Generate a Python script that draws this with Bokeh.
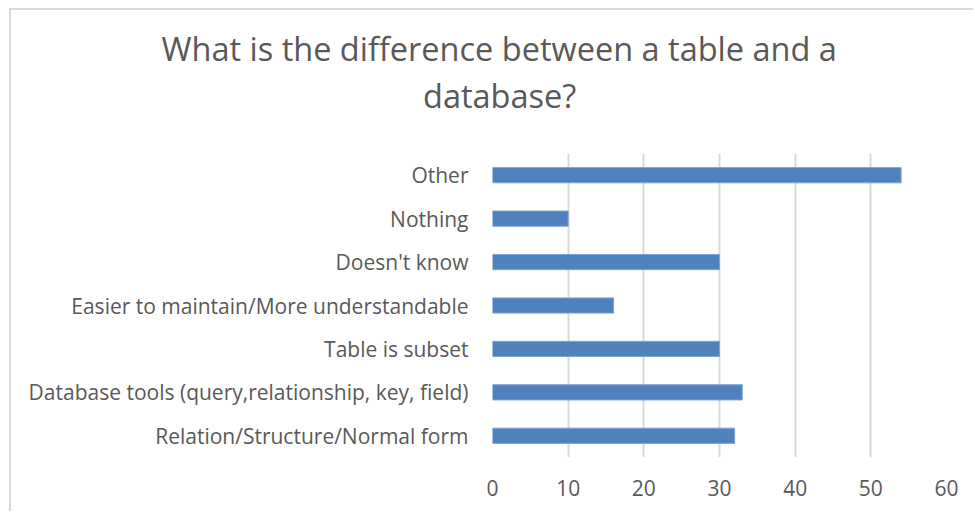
from bokeh.plotting import figure
from bokeh.models import FactorRange, Range1d, Title, FixedTicker
from bokeh.embed import file_html
from bokeh.resources import INLINE

categories = ["Relation/Structure/Normal form",
              "Database tools (query,relationship, key, field)",
              "Table is subset",
              "Easier to maintain/More understandable",
              "Doesn't know",
              "Nothing",
              "Other"]
values = [32, 33, 30, 16, 30, 10, 54]
x_ticks = [0, 10, 20, 30, 40, 50, 60]
title_lines = ["What is the difference between a table and a", "database?"]

W, H = 964, 503
p = figure(width=W, height=H, output_backend="svg", toolbar_location=None,
           y_range=FactorRange(factors=categories), x_range=Range1d(0, 60),
           min_border_left=481, min_border_right=29, min_border_top=143,
           min_border_bottom=56)
p.hbar(y=categories, right=values, left=0, height=0.35, fill_color="#4F81BD",
       line_color="#7fa3d1", line_width=1)

p.outline_line_color = None
p.background_fill_color = "white"
p.border_fill_color = "white"
p.ygrid.grid_line_color = None
p.xgrid.grid_line_color = "#d9d9d9"
p.xgrid.grid_line_width = 2
p.xaxis.ticker = FixedTicker(ticks=x_ticks)
for ax in (p.xaxis, p.yaxis):
    ax.axis_line_color = None
    ax.major_tick_line_color = None
    ax.minor_tick_line_color = None
    ax.major_label_text_color = "#595959"
    ax.major_label_text_font = "Open Sans"
    ax.major_label_text_font_size = "21px"
p.xaxis.major_label_standoff = 16
p.yaxis.major_label_standoff = 18

p.styles = {"margin-left": "9px", "margin-top": "8px",
            "border-left": "2px solid #d9d9d9", "border-top": "2px solid #d9d9d9"}

# spacer between the frame and the two-line title
p.add_layout(Title(text=" ", text_font_size="1px", standoff=33), "above")
# second line first (closer to frame), then first line above it
offsets = [161 - 492, 422.5 - 492]
for t, off in reversed(list(zip(title_lines, offsets))):
    p.add_layout(Title(text=t, align="left", offset=off, text_font="Open Sans",
                       text_font_size="32.5px", text_font_style="normal",
                       text_color="#595959", standoff=0), "above")

open("out.html", "w").write(file_html(p, INLINE))
